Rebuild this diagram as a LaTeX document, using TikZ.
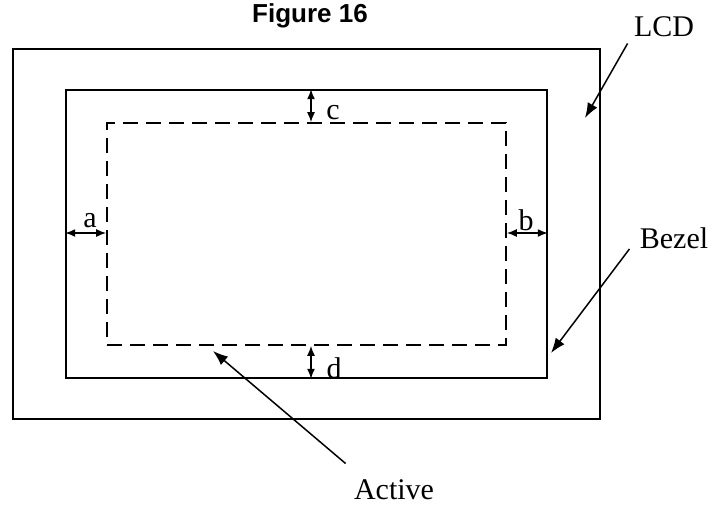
\documentclass[tikz,border=0pt]{standalone}
\usepackage{fontspec}
\setmainfont{Liberation Serif}
\newfontfamily\headfont{Liberation Sans}
\usetikzlibrary{arrows.meta, positioning}

\tikzset{
  lcdbox/.style={rectangle, draw, line width=1.1pt, minimum width=293.5pt, minimum height=185pt, inner sep=0pt},
  bezelbox/.style={rectangle, draw, line width=0.8pt, minimum width=240.5pt, minimum height=144pt, inner sep=0pt},
  activebox/.style={rectangle, draw, dash pattern=on 7.5pt off 4pt, line width=0.8pt, minimum width=199.5pt, minimum height=111pt, inner sep=0pt},
  callout/.style={font=\fontsize{15}{18}\selectfont, inner sep=1pt},
  dimlabel/.style={font=\fontsize{15}{18}\selectfont, inner sep=0pt},
  ptr/.style={-{Latex[length=7.5pt, width=5.5pt]}, line width=0.75pt},
  dimarrow/.style={{Latex[length=5pt, width=4pt]}-{Latex[length=5pt, width=4pt]}, line width=0.75pt}
}

\begin{document}
\begin{tikzpicture}[x=0.5pt, y=-0.5pt]
\useasboundingbox (0,0) rectangle (718,504);

% title
\node[font=\headfont\bfseries\fontsize{13}{15}\selectfont] (title) at (310,16) {Figure 16};

% LCD, bezel and active area
\node[lcdbox] (lcd) at (306.5,234) {};
\node[bezelbox] (bezel) at (306.5,234) {};
\node[activebox] (active) at (306.5,234) {};

% gaps a, b, c, d
\draw[dimarrow] ([yshift=0.5pt]bezel.west) -- ([yshift=0.5pt]active.west);
\node[dimlabel] (alab) at (90,221) {a};
\draw[dimarrow] ([yshift=0.5pt]active.east) -- ([yshift=0.5pt]bezel.east);
\node[dimlabel] (blab) at (526,220) {b};
\draw[dimarrow] ([xshift=2.25pt]bezel.north) -- ([xshift=2.25pt]active.north);
\node[dimlabel] (clab) at (333,113) {c};
\draw[dimarrow] ([xshift=2.25pt]active.south) -- ([xshift=2.25pt]bezel.south);
\node[dimlabel] (dlab) at (334,368) {d};

% callouts
\node[callout] (lcdtxt) at (664,27) {LCD};
\coordinate (lcdtip) at (585,118);
\draw[ptr] ([shift={(-4,4)}]lcdtxt.south west) -- (lcdtip);

\node[callout] (bezeltxt) at (674,238) {Bezel};
\coordinate (bezeltip) at (551,353);
\draw[ptr] ([shift={(-8,-2)}]bezeltxt.south west) -- (bezeltip);

\node[callout] (activetxt) at (394,490) {Active};
\coordinate (activetip) at (213,351);
\draw[ptr] ([shift={(-6,-14)}]activetxt.north west) -- (activetip);
\end{tikzpicture}
\end{document}
